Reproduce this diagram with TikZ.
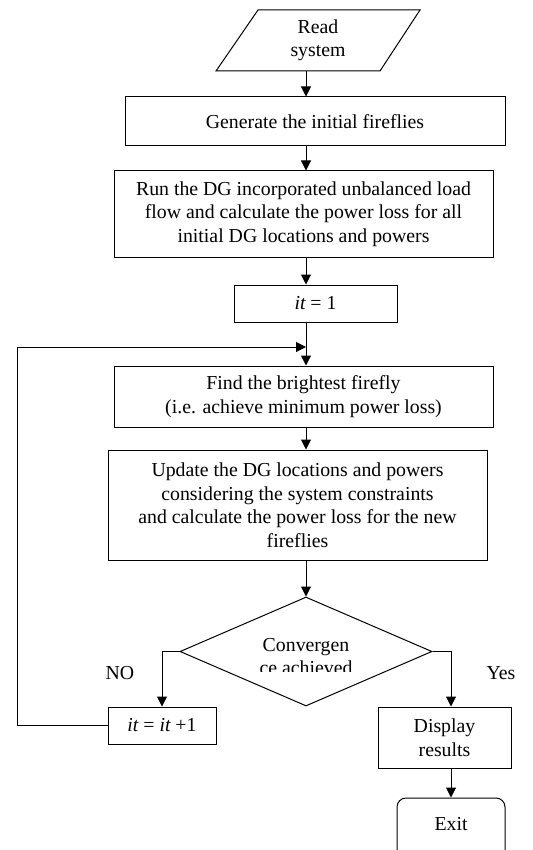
\documentclass[tikz,border=0pt]{standalone}
\usepackage{fontspec}
\setmainfont{Liberation Serif}
\usetikzlibrary{arrows.meta,shapes.geometric}
\begin{document}
\begin{tikzpicture}[x=1pt,y=-1pt,
  box/.style={draw, line width=1pt, align=center, inner sep=0pt, font=\fontsize{19.8}{23.5}\selectfont},
  lbl/.style={font=\fontsize{19.8}{23.5}\selectfont, inner sep=0pt, align=center},
  arr/.style={-{Triangle[length=10pt,width=10pt]}, line width=1pt},
  conn/.style={line width=1pt}]
\useasboundingbox (0,0) rectangle (532,850);
\clip (0,0) rectangle (532,850);
\coordinate (ax) at (306,0);
% input parallelogram
\draw[conn] (258,10) -- (420,10) -- (380,71) -- (216,71) -- cycle;
\node[lbl, minimum width=160pt, minimum height=61pt] (read) at (318,40.5) {Read\\system};
\node[box, minimum width=380pt, minimum height=49pt] (gen) at (315,121.5) {Generate the initial fireflies};
\node[box, minimum width=379pt, minimum height=86pt] (run) at (303.5,214) {Run the DG incorporated unbalanced load\\flow and calculate the power loss for all\\initial DG locations and powers};
\node[box, minimum width=163pt, minimum height=37pt] (it1) at (315.5,303.5) {{\itshape it} = 1};
\node[box, minimum width=379pt, minimum height=61pt] (find) at (303.5,396.5) {Find the brightest firefly\\(i.e. achieve minimum power loss)};
\node[box, minimum width=379pt, minimum height=110pt] (upd) at (297.5,505) {Update the DG locations and powers\\considering the system constraints\\and calculate the power loss for the new\\fireflies};
\node[draw, conn, diamond, inner sep=0pt, minimum width=252pt, minimum height=109pt] (dec) at (306,651.5) {};
\begin{scope}
  \clip (230,628) rectangle (382,671);
  \node[lbl] (dectext) at (306,656.5) {Convergen\\ce achieved};
\end{scope}
\node[box, minimum width=108pt, minimum height=37pt] (inc) at (162,725.5) {{\itshape it} = {\itshape it} +1};
\node[box, minimum width=133pt, minimum height=61pt] (disp) at (444.5,737.5) {Display\\results};
\node[box, rounded corners=9pt, minimum width=108pt, minimum height=72pt, text height=13pt, text depth=20pt] (exit) at (451,834) {Exit};
\node[lbl] (no) at (120,673) {NO};
\node[lbl] (yes) at (501,673) {Yes};
% connectors
\draw[arr] (ax |- 0,71) -- (ax |- gen.north);
\draw[arr] (ax |- gen.south) -- (ax |- run.north);
\draw[arr] (ax |- run.south) -- (ax |- it1.north);
\draw[arr] (ax |- it1.south) -- (ax |- find.north);
\draw[arr] (ax |- find.south) -- (ax |- upd.north);
\draw[arr] (ax |- upd.south) -- (dec.north);
\coordinate (loop) at (306,347);
\coordinate (lc) at (17,347);
\draw[arr] (inc.west) -| (lc) -- (loop);
\draw[arr] (dec.west) -| (inc.north);
\draw[arr] (dec.east) -| (exit.north |- disp.north);
\draw[arr] (exit.north |- disp.south) -- (exit.north);
\end{tikzpicture}
\end{document}
